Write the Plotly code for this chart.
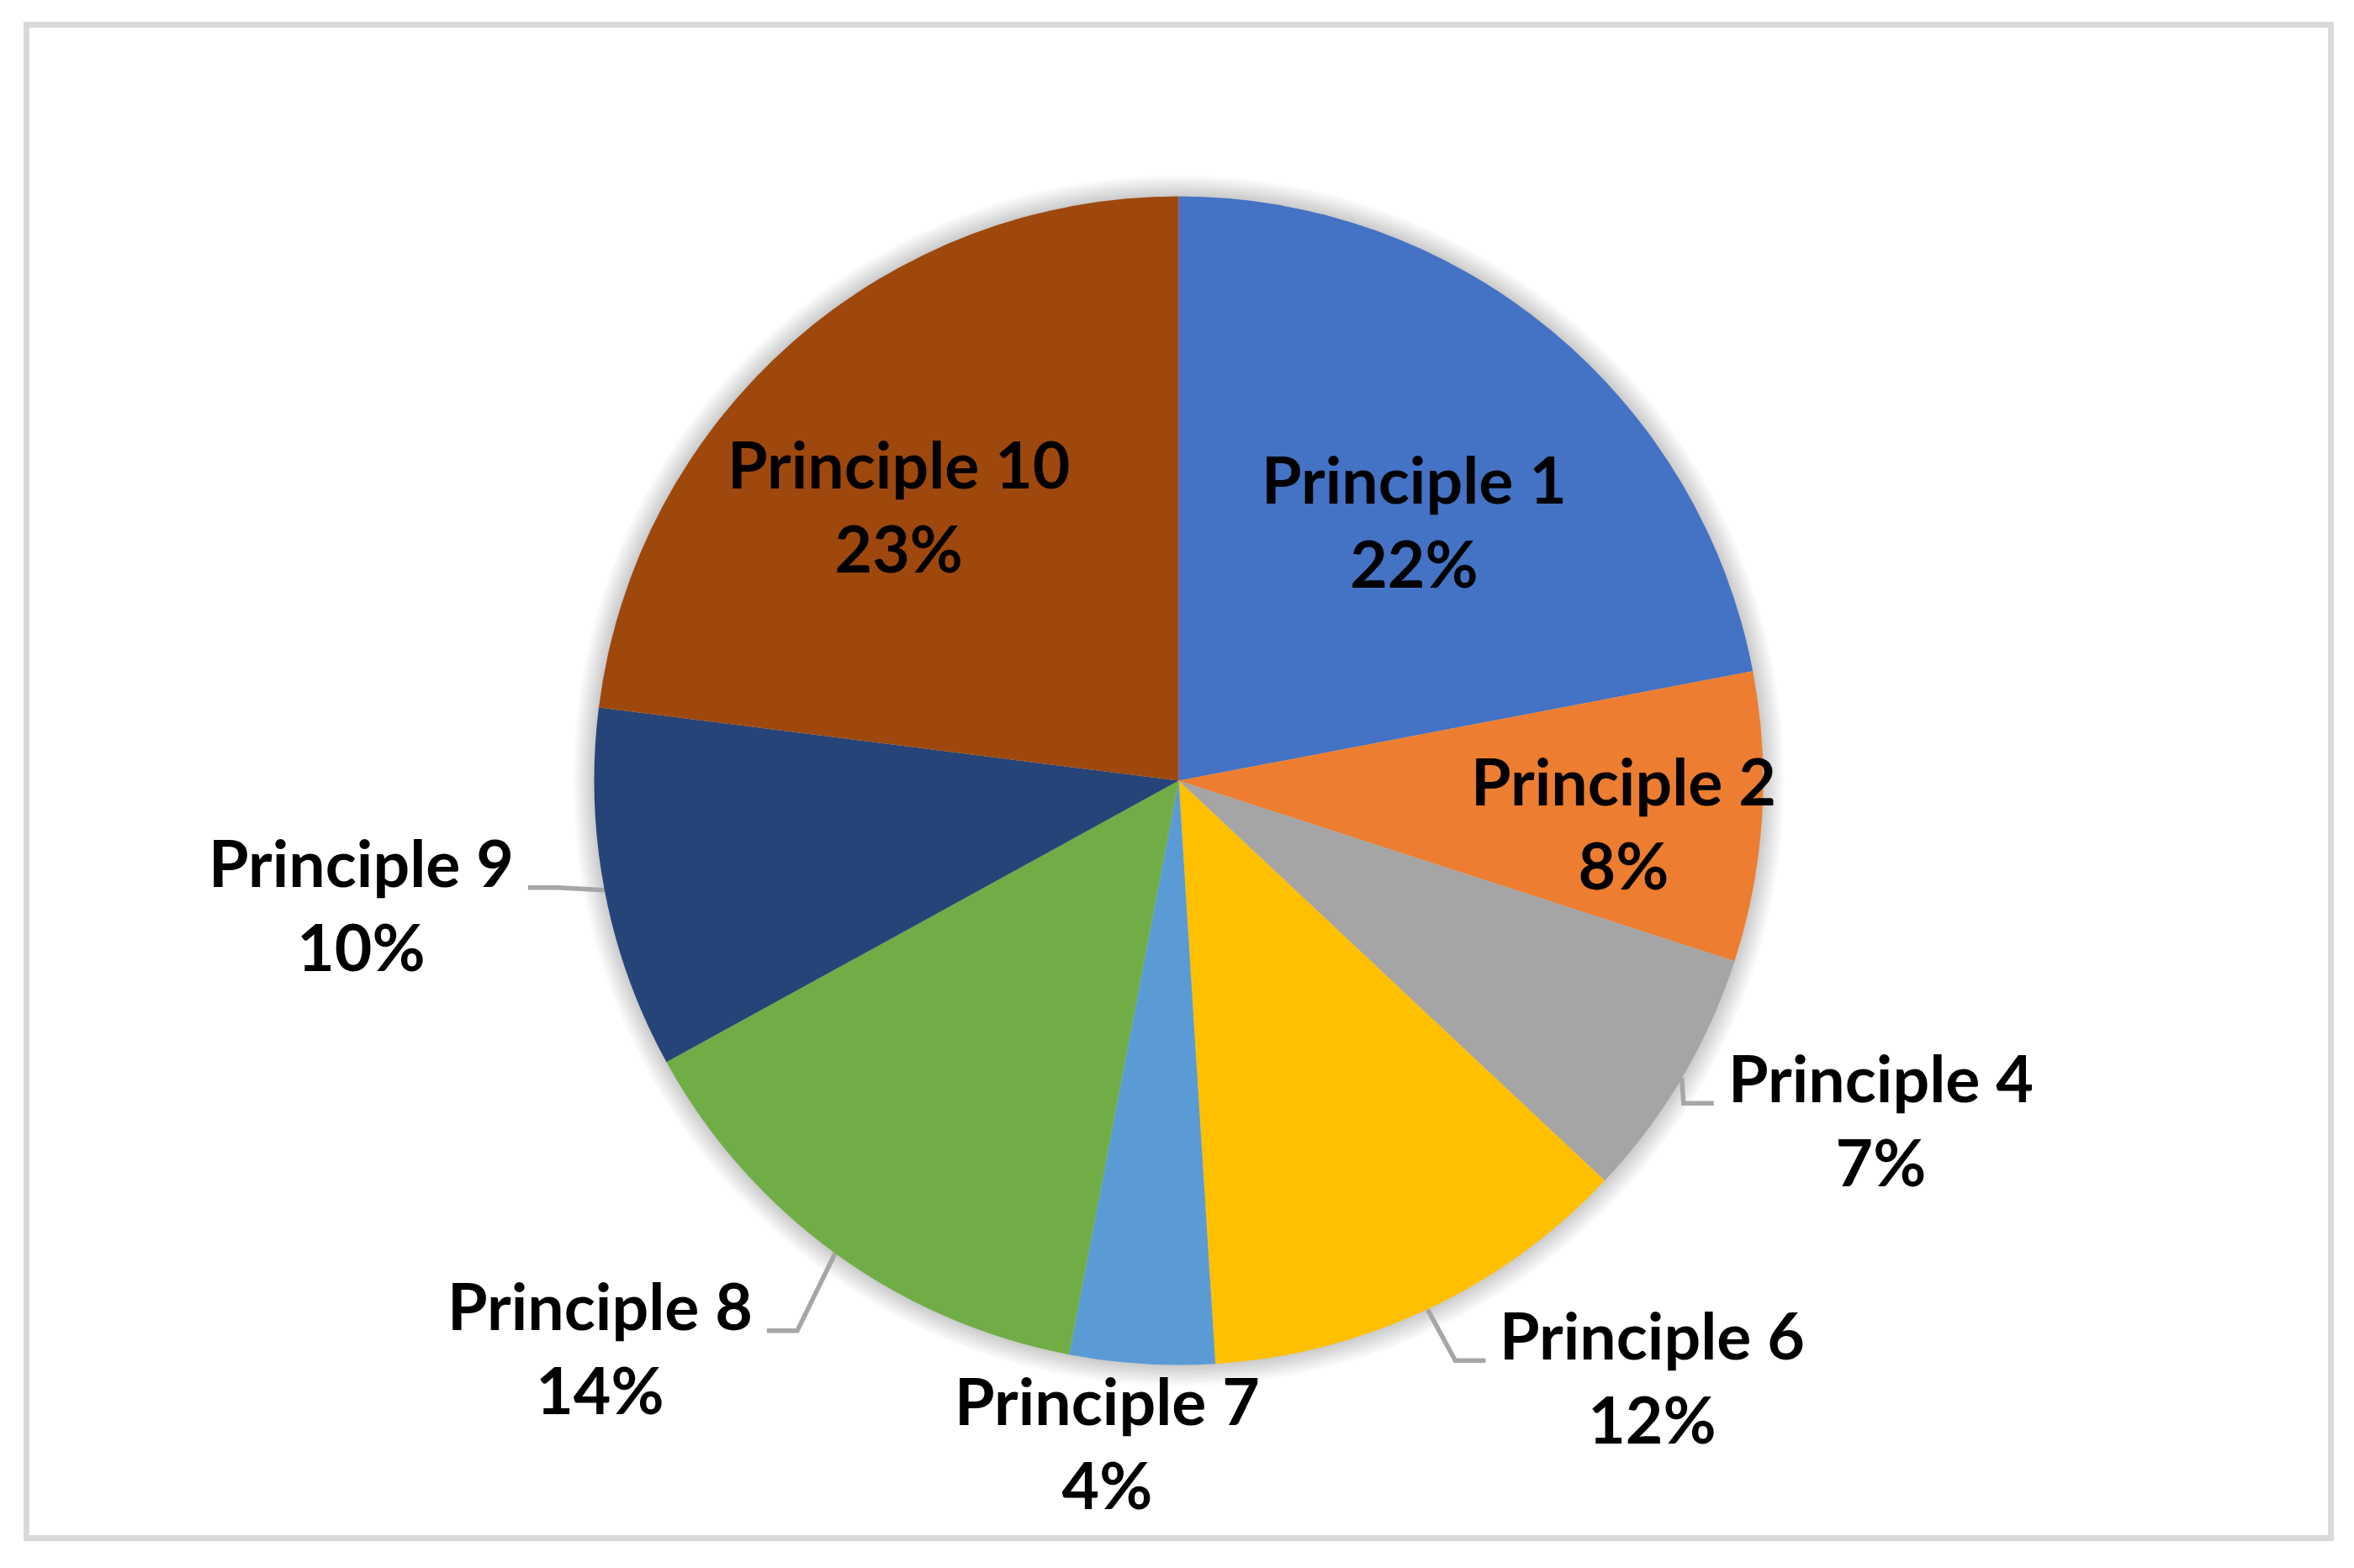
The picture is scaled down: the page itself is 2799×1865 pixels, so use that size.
import math
import plotly.graph_objects as go

W, H = 2799, 1865
OFF = 8  # default page margin of the html body

# --- DATA ---
labels = ["Principle 1", "Principle 2", "Principle 4", "Principle 6",
          "Principle 7", "Principle 8", "Principle 9", "Principle 10"]
shares = [22, 8, 7, 12, 4, 14, 10, 23]
colors = ["#4472C4", "#ED7D31", "#A5A5A5", "#FFC000",
          "#5B9BD5", "#70AD47", "#264478", "#9E480E"]

# --- GEOMETRY (screen pixels) ---
CX, CY, R = 1401.5, 928.5, 695
FONT = dict(family="Lato", size=77, color="black", weight="bold")
LEADER_LEN, LEADER_GAP = 36, 15
BASELINE = 79  # box top -> first baseline

# label placement, tuned by eye (Excel style)
INSIDE = {"Principle 1": (0.60, 2.5), "Principle 2": (0.765, 1.7),
          "Principle 10": (0.672, -4.0)}          # radius factor, angle nudge
OUTSIDE = {"Principle 4": (2, 30, "right"), "Principle 6": (33, 61, "right"),
           "Principle 8": (-45, 92, "left"), "Principle 9": (-55, -3, "left")}  # elbow offset
FREE = {"Principle 7": (-41, 93)}                 # text offset from rim, no leader

total = sum(shares)


def rim_point(deg, frac=1.0):
    a = math.radians(deg)
    return CX + frac * R * math.sin(a), CY - frac * R * math.cos(a)


fw, fh = W - OFF, H - OFF
fig = go.Figure()

fig.add_trace(go.Pie(
    labels=labels, values=shares, sort=False, direction="clockwise", rotation=0,
    marker=dict(colors=colors, line=dict(width=0)),
    textinfo="none", showlegend=False, hoverinfo="label+percent",
    domain=dict(x=[(CX - R - OFF) / fw, (CX + R - OFF) / fw],
                y=[1 - (CY + R - OFF) / fh, 1 - (CY - R - OFF) / fh]),
))

annotations, lx, ly = [], [], []
cum = 0
for lab, val in zip(labels, shares):
    mid = (cum + val / 2) / total * 360
    cum += val
    text = f"{lab}<br>{round(val / total * 100)}%"
    if lab in INSIDE:
        f, nudge = INSIDE[lab]
        x, y = rim_point(mid + nudge, f)
        annotations.append(dict(x=x, y=y, text=text, xanchor="center", yanchor="middle"))
    elif lab in OUTSIDE:
        dx, dy, side = OUTSIDE[lab]
        rx, ry = rim_point(mid)
        ex, ey = rx + dx, ry + dy
        s = 1 if side == "right" else -1
        fx = ex + s * LEADER_LEN
        lx += [rx, ex, fx, None]
        ly += [ry, ey, ey, None]
        annotations.append(dict(x=fx + s * LEADER_GAP, y=ey - BASELINE, text=text,
                                xanchor="left" if s > 0 else "right", yanchor="top"))
    else:
        dx, dy = FREE[lab]
        rx, ry = rim_point(mid)
        annotations.append(dict(x=rx + dx, y=ry + dy, text=text,
                                xanchor="center", yanchor="middle"))

for a in annotations:
    a.update(xref="x", yref="y", showarrow=False, font=FONT, align="center")

# leader lines
fig.add_trace(go.Scatter(x=lx, y=ly, mode="lines", hoverinfo="skip", showlegend=False,
                         line=dict(color="#A6A6A6", width=5.5)))

# soft shadow round the pie + chart frame
shapes = []
for k in range(10):
    r = R + 2.5 * (k + 1)
    shapes.append(dict(type="circle", xref="x", yref="y", layer="below",
                       x0=CX - r, x1=CX + r, y0=CY - r, y1=CY + r,
                       fillcolor="rgba(0,0,0,0.018)", line=dict(width=0)))
shapes.append(dict(type="rect", xref="x", yref="y", x0=31.5, x1=2771.5, y0=29.5, y1=1829.5,
                   line=dict(color="#D9D9D9", width=7), fillcolor="rgba(0,0,0,0)"))

fig.update_layout(
    width=fw, height=fh, margin=dict(l=0, r=0, t=0, b=0),
    paper_bgcolor="white", plot_bgcolor="rgba(0,0,0,0)",
    xaxis=dict(range=[OFF, W], visible=False, fixedrange=True, domain=[0, 1]),
    yaxis=dict(range=[H, OFF], visible=False, fixedrange=True, domain=[0, 1]),
    annotations=annotations, shapes=shapes, showlegend=False,
)

fig.write_html("out.html")
